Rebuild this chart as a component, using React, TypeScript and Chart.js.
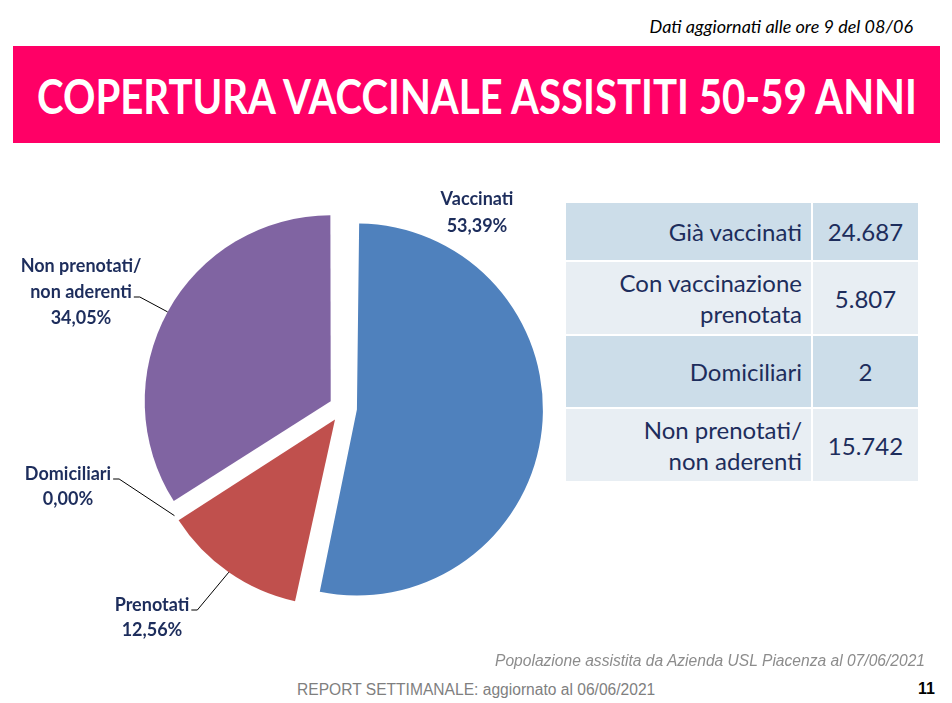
import React, { useEffect, useLayoutEffect, useRef } from "react";
import { Chart, registerables } from "chart.js";

Chart.register(...registerables);

// ---------- data ----------
const categories = ["Vaccinati", "Prenotati", "Domiciliari", "Non prenotati/ non aderenti"];
const values = [24687, 5807, 2, 15742];
const sliceColors = ["#4F81BD", "#C0504D", "#9BBB59", "#8064A2"];
const pieLabelLines = [["Vaccinati"], ["Prenotati"], ["Domiciliari"], ["Non prenotati/", "non aderenti"]];
const tableLabels = [["Già vaccinati"], ["Con vaccinazione", "prenotata"], ["Domiciliari"], ["Non prenotati/", "non aderenti"]];
const tableValues = [24687, 5807, 2, 15742];

const TITLE = "COPERTURA VACCINALE ASSISTITI 50-59 ANNI";
const UPDATED = "Dati aggiornati alle ore 9 del 08/06";
const SOURCE = "Popolazione assistita da Azienda USL Piacenza al 07/06/2021";
const REPORT = "REPORT SETTIMANALE: aggiornato al 06/06/2021";
const PAGE = "11";

// ---------- layout ----------
const CANVAS_LEFT = 0;
const CANVAS_TOP = 170;
const CANVAS_W = 560;
const CANVAS_H = 500;
const RADIUS = 186;
const EXPLODE = 14; // px each slice is pulled out
const OFFSET = EXPLODE * 4; // Chart.js translates an arc by offset/4
const LABEL_COLOR = "#1D2D5C";
const LABEL_FONT = "bold 18px Lato";
const labelLayout = [
  { cx: 477, ys: [199, 226], leaderLine: -1 },
  { cx: 152, ys: [605, 630], leaderLine: 0 },
  { cx: 68, ys: [474, 499], leaderLine: 0 },
  { cx: 81, ys: [266, 292, 318], leaderLine: 1 },
];

const total = values.reduce((a, b) => a + b, 0);
const pct = (v: number) => ((v / total) * 100).toFixed(2).replace(".", ",") + "%";
const fmtIt = (v: number) => String(v).replace(/\B(?=(\d{3})+(?!\d))/g, ".");

// Chart.js also grows an offset arc's radius by offset/4*fix; cancel that so all slices share one radius
const equalRadiusPlugin = {
  id: "equalRadius",
  afterDatasetsUpdate(chart: any) {
    const meta = chart.getDatasetMeta(0);
    meta.data.forEach((arc: any) => {
      const circ = arc.endAngle - arc.startAngle;
      const fix = 1 - Math.sin(Math.min(Math.PI, circ));
      arc.outerRadius = RADIUS - (OFFSET / 4) * fix;
    });
  },
};

const labelPlugin = {
  id: "pieLabels",
  afterDatasetsDraw(chart: any) {
    const ctx = chart.ctx as CanvasRenderingContext2D;
    const meta = chart.getDatasetMeta(0);
    ctx.save();
    ctx.font = LABEL_FONT;
    ctx.fillStyle = LABEL_COLOR;
    ctx.textAlign = "center";
    ctx.textBaseline = "middle";
    meta.data.forEach((arc: any, i: number) => {
      const lay = labelLayout[i];
      const lines = [...pieLabelLines[i], pct(values[i])];
      lines.forEach((t, k) => {
        ctx.fillText(t, lay.cx - CANVAS_LEFT, lay.ys[k] - CANVAS_TOP);
      });
      if (lay.leaderLine >= 0) {
        const mid = (arc.startAngle + arc.endAngle) / 2;
        const cx = arc.x + Math.cos(mid) * EXPLODE;
        const cy = arc.y + Math.sin(mid) * EXPLODE;
        const ax = cx + Math.cos(mid) * RADIUS;
        const ay = cy + Math.sin(mid) * RADIUS;
        const txt = lines[lay.leaderLine];
        const w = ctx.measureText(txt).width;
        const sx = lay.cx - CANVAS_LEFT + w / 2 + 2;
        const sy = lay.ys[lay.leaderLine] - CANVAS_TOP + 5;
        ctx.beginPath();
        ctx.strokeStyle = "#000";
        ctx.lineWidth = 1;
        ctx.moveTo(sx, sy);
        ctx.lineTo(sx + 6, sy);
        ctx.lineTo(ax, ay);
        ctx.stroke();
      }
    });
    ctx.restore();
  },
};

function PieChart() {
  const ref = useRef<HTMLCanvasElement>(null);
  useEffect(() => {
    if (!ref.current) return;
    const chart = new Chart(ref.current, {
      type: "pie",
      data: {
        labels: categories,
        datasets: [
          {
            data: values,
            backgroundColor: sliceColors,
            borderWidth: 0,
            offset: OFFSET,
          } as any,
        ],
      },
      options: {
        responsive: false,
        animation: false,
        devicePixelRatio: 1,
        radius: RADIUS,
        layout: { padding: { left: 150, right: 24, top: 20, bottom: 44 } },
        plugins: { legend: { display: false }, tooltip: { enabled: false } },
        events: [],
      } as any,
      plugins: [equalRadiusPlugin, labelPlugin],
    });
    return () => chart.destroy();
  }, []);
  return (
    <canvas
      ref={ref}
      width={CANVAS_W}
      height={CANVAS_H}
      style={{ position: "absolute", left: CANVAS_LEFT, top: CANVAS_TOP, width: CANVAS_W, height: CANVAS_H }}
    />
  );
}

const rowHeights = [57, 72, 71, 72];
const rowColors = ["#CCDDE9", "#E8EEF3", "#CCDDE9", "#E8EEF3"];

function Table() {
  let top = 203;
  return (
    <div>
      {tableLabels.map((lines, i) => {
        const t = top;
        top += rowHeights[i] + 2;
        return (
          <React.Fragment key={i}>
            <div
              style={{
                position: "absolute",
                left: 566,
                top: t,
                width: 245,
                height: rowHeights[i],
                background: rowColors[i],
                display: "flex",
                alignItems: "center",
                justifyContent: "flex-end",
                boxSizing: "border-box",
                paddingRight: 9,
                textAlign: "right",
                fontFamily: "Lato",
                fontSize: 24,
                lineHeight: "31px",
                color: LABEL_COLOR,
              }}
            >
              <div>
                {lines.map((l, k) => (
                  <div key={k}>{l}</div>
                ))}
              </div>
            </div>
            <div
              style={{
                position: "absolute",
                left: 813,
                top: t,
                width: 105,
                height: rowHeights[i],
                background: rowColors[i],
                display: "flex",
                alignItems: "center",
                justifyContent: "center",
                fontFamily: "Lato",
                fontSize: 24,
                color: LABEL_COLOR,
              }}
            >
              {fmtIt(tableValues[i])}
            </div>
          </React.Fragment>
        );
      })}
    </div>
  );
}

function Title() {
  const ref = useRef<HTMLSpanElement>(null);
  useLayoutEffect(() => {
    const el = ref.current;
    if (!el) return;
    const w = el.offsetWidth;
    if (w > 0) el.style.transform = `scaleX(${880 / w})`;
  }, []);
  return (
    <span
      ref={ref}
      style={{
        fontFamily: "Lato",
        fontWeight: 700,
        fontSize: 47,
        color: "#fff",
        whiteSpace: "nowrap",
        display: "inline-block",
        transformOrigin: "center center",
        marginTop: 2,
      }}
    >
      {TITLE}
    </span>
  );
}

export default function App() {
  return (
    <div style={{ position: "absolute", left: 0, top: 0, width: 952, height: 703, background: "#fff", overflow: "hidden" }}>
      <div
        style={{
          position: "absolute",
          right: 39,
          top: 15,
          fontFamily: "Lato",
          fontStyle: "italic",
          fontSize: 18,
          color: "#000",
          whiteSpace: "nowrap",
        }}
      >
        {UPDATED}
      </div>
      <div
        style={{
          position: "absolute",
          left: 13,
          top: 46,
          width: 927,
          height: 97,
          background: "#FF0066",
          display: "flex",
          alignItems: "center",
          justifyContent: "center",
          overflow: "hidden",
        }}
      >
        <Title />
      </div>
      <PieChart />
      <Table />
      <div
        style={{
          position: "absolute",
          right: 27,
          top: 652,
          fontFamily: "Liberation Sans",
          fontStyle: "italic",
          fontSize: 15.6,
          color: "#8C8C8C",
          whiteSpace: "nowrap",
        }}
      >
        {SOURCE}
      </div>
      <div
        style={{
          position: "absolute",
          left: 297,
          top: 681,
          fontFamily: "Liberation Sans",
          fontSize: 15.6,
          color: "#7F7F7F",
          whiteSpace: "nowrap",
        }}
      >
        {REPORT}
      </div>
      <div
        style={{
          position: "absolute",
          right: 17,
          top: 680,
          fontFamily: "Liberation Sans",
          fontWeight: 700,
          fontSize: 16,
          color: "#000",
        }}
      >
        {PAGE}
      </div>
    </div>
  );
}
